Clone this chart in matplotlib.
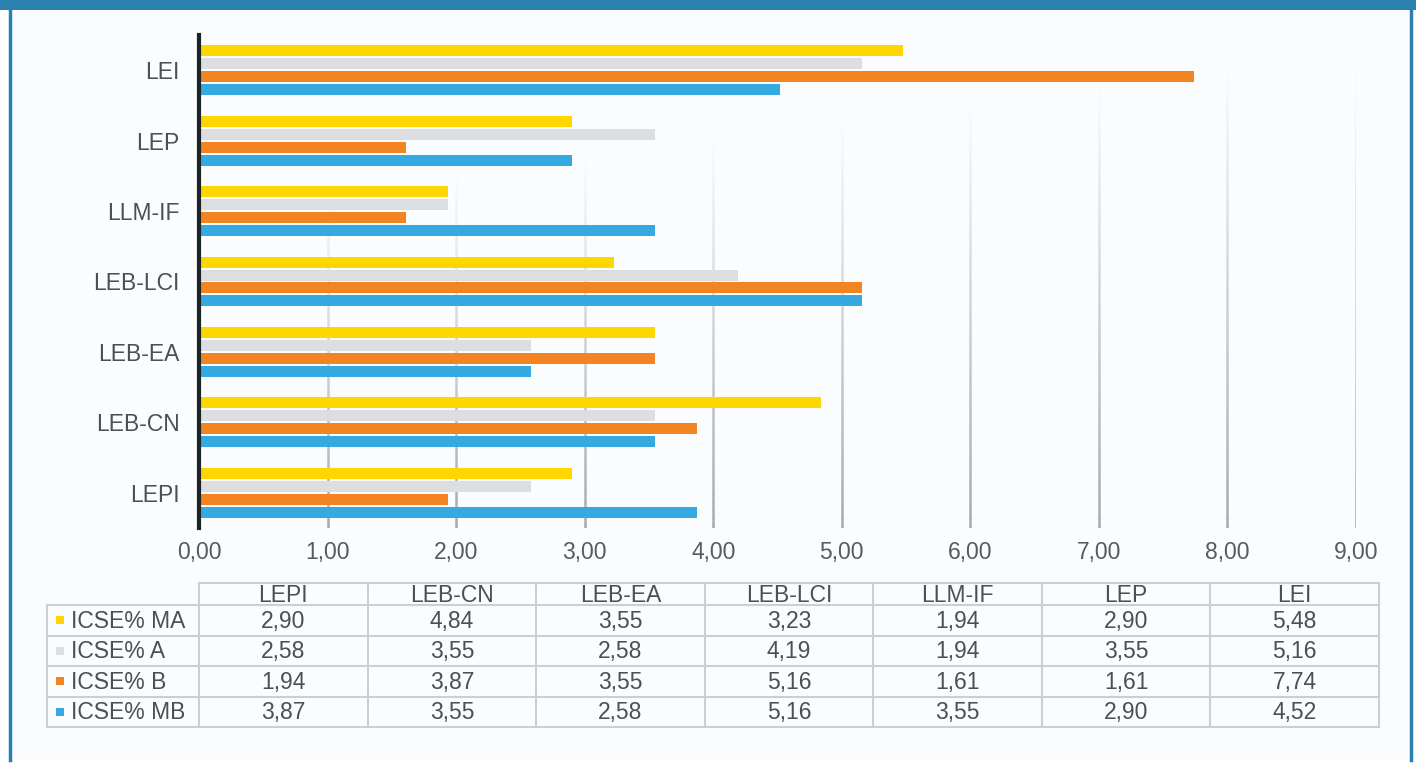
import matplotlib.pyplot as plt
import numpy as np
from matplotlib.collections import LineCollection
from matplotlib.patches import Rectangle

plt.rcParams['font.family'] = ['Liberation Sans', 'DejaVu Sans']

categories = ['LEPI', 'LEB-CN', 'LEB-EA', 'LEB-LCI', 'LLM-IF', 'LEP', 'LEI']
series_names = ['ICSE% MA', 'ICSE% A', 'ICSE% B', 'ICSE% MB']
ma = [2.90, 4.84, 3.55, 3.23, 1.94, 2.90, 5.48]
a = [2.58, 3.55, 2.58, 4.19, 1.94, 3.55, 5.16]
b = [1.94, 3.87, 3.55, 5.16, 1.61, 1.61, 7.74]
mb = [3.87, 3.55, 2.58, 5.16, 3.55, 2.90, 4.52]
colors = ['#FFD600', '#DCDEE0', '#F28522', '#36A9E1']
xticks = np.arange(0, 10)

W, H = 1416, 764
FS = 16.5
fig = plt.figure(figsize=(W / 100, H / 100), dpi=100)
fig.patch.set_facecolor('white')

# background frame + table, in pixel coordinates
bg = fig.add_axes([0, 0, 1, 1], zorder=-1)
bg.set_xlim(0, W)
bg.set_ylim(H, 0)
bg.axis('off')
bg.add_patch(Rectangle((10, 10), 1400, 750, facecolor='#fbfcfd', edgecolor='none'))
bg.add_patch(Rectangle((0, 0), W, 10, facecolor='#2A80B0', edgecolor='none'))
bg.plot([9.5, 9.5], [8, 760], color='#2A80B0', lw=2.5)
bg.plot([1410.5, 1410.5], [8, 760], color='#2A80B0', lw=2.5)

# chart
ax = fig.add_axes([199 / W, 1 - 528 / H, (1356 - 199) / W, (528 - 35) / H])
ax.set_facecolor('none')
y = np.arange(len(categories))
pitch, height = 0.184, 0.156
for k, vals in enumerate([ma, a, b, mb]):
    ax.barh(y + (1.5 - k) * pitch, vals, height=height, color=colors[k], zorder=3)

ax.set_xlim(0, 9)
ax.set_ylim(-0.5, 6.5)
ax.set_xticks(xticks)
ax.set_xticklabels([f'{v:.2f}'.replace('.', ',') for v in xticks], fontsize=FS, color='#555b60')
ax.set_yticks(y)
ax.set_yticklabels(categories, fontsize=FS, color='#4a5056')
ax.tick_params(length=0)
ax.tick_params(axis='x', pad=9)
ax.tick_params(axis='y', pad=14)
for s in ['top', 'right', 'bottom']:
    ax.spines[s].set_visible(False)
ax.spines['left'].set_linewidth(3)
ax.spines['left'].set_color('#1a2326')
ax.spines['left'].set_zorder(5)

# fading grid lines (dark at bottom)
n = 60
ys = np.linspace(-0.5, 6.0, n + 1)
for xv in xticks[1:]:
    segs = [[(xv, ys[i]), (xv, ys[i + 1])] for i in range(n)]
    alphas = np.clip(1 - (ys[:-1] + 0.5) / (4.5 + 0.25 * xv), 0, 1) * 0.65
    cols = [(0.45, 0.49, 0.52, al) for al in alphas]
    ax.add_collection(LineCollection(segs, colors=cols, linewidths=1.8, zorder=1))

# data table
lc = '#c9cfd3'
x0, xl, x1 = 199, 47, 1379
col_w = (x1 - x0) / len(categories)
hy0, hy1 = 583, 605
row_h = (727 - 605) / 4
tc = '#4a5056'
# header
bg.plot([x0, x1], [hy0, hy0], color=lc, lw=1.5)
for j in range(len(categories) + 1):
    bg.plot([x0 + j * col_w] * 2, [hy0, 727], color=lc, lw=1.5)
for j, c in enumerate(categories):
    bg.text(x0 + (j + 0.5) * col_w, (hy0 + hy1) / 2 + 1, c, ha='center', va='center',
            fontsize=FS, color=tc)
bg.plot([xl, xl], [hy1, 727], color=lc, lw=1.5)
for i in range(5):
    yy = hy1 + i * row_h
    bg.plot([xl, x1], [yy, yy], color=lc, lw=1.5)
for i, (name, vals) in enumerate(zip(series_names, [ma, a, b, mb])):
    yc = hy1 + (i + 0.5) * row_h
    bg.add_patch(Rectangle((56, yc - 4), 8, 8, facecolor=colors[i], edgecolor='none'))
    bg.text(71, yc + 1, name, ha='left', va='center', fontsize=FS, color=tc)
    for j, v in enumerate(vals):
        bg.text(x0 + (j + 0.5) * col_w, yc + 1, f'{v:.2f}'.replace('.', ','),
                ha='center', va='center', fontsize=FS, color=tc)

fig.savefig('out.png', dpi=100)
